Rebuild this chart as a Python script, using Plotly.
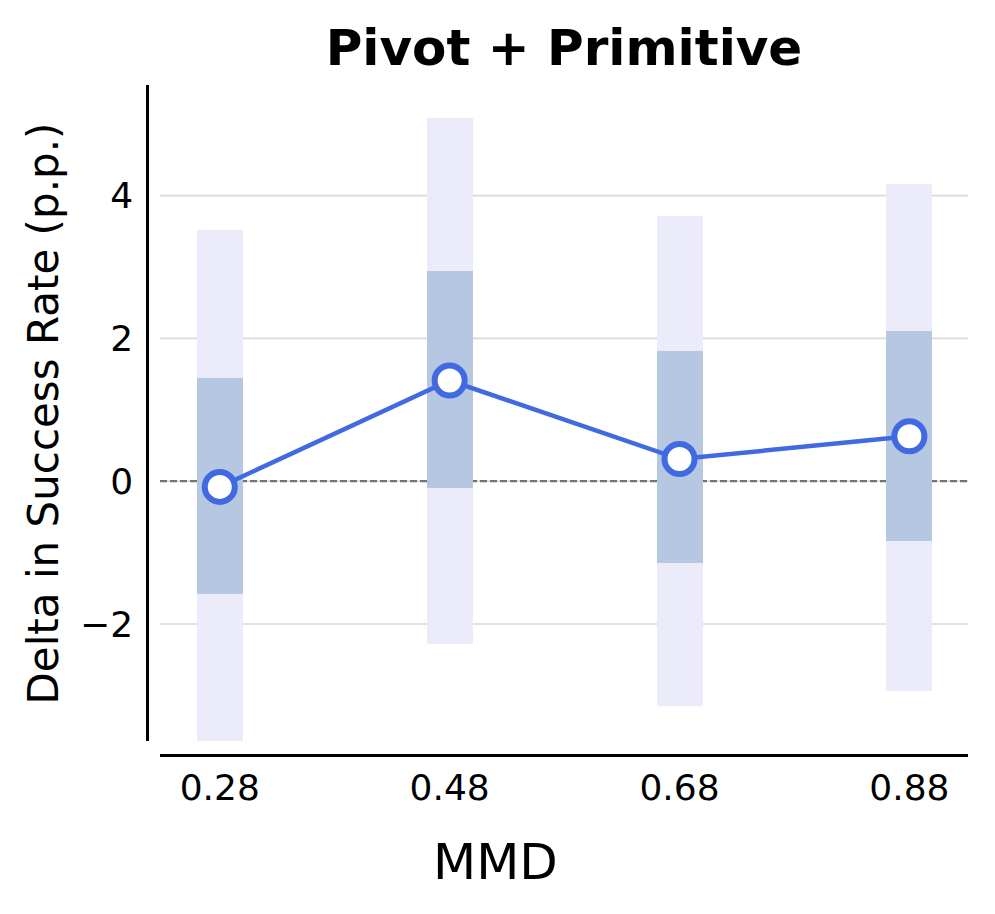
import plotly.graph_objects as go

# ---- data ----
mmd = [0.28, 0.48, 0.68, 0.88]
mmd_labels = ["0.28", "0.48", "0.68", "0.88"]
delta_mean = [-0.08, 1.41, 0.31, 0.63]
inner_lo = [-1.58, -0.10, -1.15, -0.84]
inner_hi = [1.45, 2.95, 1.82, 2.10]
outer_lo = [-3.64, -2.28, -3.15, -2.94]
outer_hi = [3.52, 5.09, 3.71, 4.17]
y_ticks = [-2, 0, 2, 4]

FONT = "DejaVu Sans"

fig = go.Figure()

fig.add_trace(go.Bar(
    x=mmd, base=outer_lo, y=[h - l for h, l in zip(outer_hi, outer_lo)],
    width=0.04, marker=dict(color="#EBEBFA", line=dict(width=0)),
    hoverinfo="skip", showlegend=False,
))
fig.add_trace(go.Bar(
    x=mmd, base=inner_lo, y=[h - l for h, l in zip(inner_hi, inner_lo)],
    width=0.04, marker=dict(color="#B6C7E1", line=dict(width=0)),
    hoverinfo="skip", showlegend=False,
))
fig.add_trace(go.Scatter(
    x=mmd, y=delta_mean, mode="lines+markers",
    line=dict(color="#4169E1", width=4.5),
    marker=dict(size=30, color="white", line=dict(color="#4169E1", width=6)),
    showlegend=False,
))

# horizontal grid lines (behind everything)
for t in y_ticks:
    fig.add_shape(type="line", xref="x domain", yref="y", x0=0, x1=1, y0=t, y1=t,
                  line=dict(color="#D9D9D9", width=1.6), layer="below")
# dashed zero reference line
fig.add_shape(type="line", xref="x domain", yref="y", x0=0, x1=1, y0=0, y1=0,
              line=dict(color="#737373", width=2.4, dash="7px,3px"), layer="below")

OFF = 8  # page body margin
W, H = 979, 898
L = 147 - OFF
R = W - (968 - OFF)
T = 85 - OFF
B = H - (755 - OFF)
pw = W - L - R
ph = H - T - B

def px(xs):
    return (xs - OFF - L) / pw

def py(ys):
    return 1 - (ys - OFF - T) / ph

fig.update_layout(
    width=W, height=H,
    margin=dict(l=L, r=R, t=T, b=B),
    plot_bgcolor="white", paper_bgcolor="white",
    barmode="overlay", bargap=0,
    font=dict(family=FONT, color="black"),
    title=dict(text="<b>Pivot + Primitive</b>", font=dict(size=50, family=FONT, color="black"),
               x=px(564), xref="paper", xanchor="center",
               y=1 - (47 - OFF) / H, yref="container", yanchor="middle"),
    xaxis=dict(
        domain=[(160 - 147) / pw, 1], anchor="free", position=0,
        range=[0.228, 0.931], tickvals=mmd, ticktext=mmd_labels,
        showgrid=False, zeroline=False,
        showline=True, linecolor="black", linewidth=2.5,
        ticks="",
        tickfont=dict(size=36, family=FONT, color="black"),
    ),
    yaxis=dict(
        domain=[(755 - 741) / ph, 1], anchor="free", position=0,
        range=[-3.64, 5.55], tickvals=y_ticks,
        showgrid=False, zeroline=False,
        showline=True, linecolor="black", linewidth=2.5,
        ticks="outside", ticklen=6, tickcolor="rgba(0,0,0,0)",
        tickfont=dict(size=36, family=FONT, color="black"),
    ),
    annotations=[
        dict(text="MMD", x=px(495), y=py(862), xref="paper", yref="paper",
             xanchor="center", yanchor="middle", showarrow=False,
             font=dict(size=50, family=FONT, color="black")),
        dict(text="Delta in Success Rate (p.p.)", x=px(43), y=py(413.5),
             xref="paper", yref="paper", xanchor="center", yanchor="middle",
             textangle=-90, showarrow=False,
             font=dict(size=42, family=FONT, color="black")),
    ],
)

fig.write_html("out.html")
